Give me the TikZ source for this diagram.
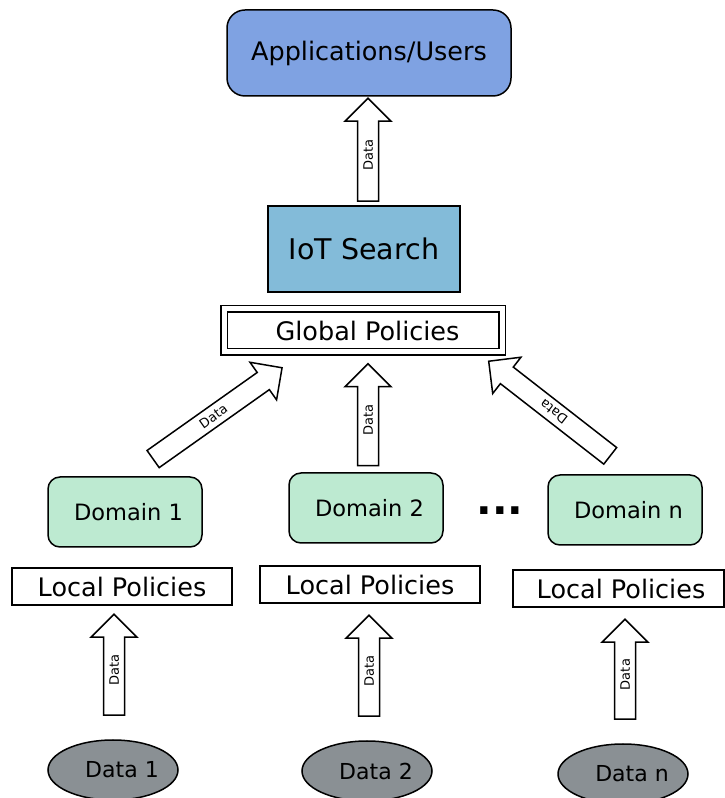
\documentclass[tikz,border=0pt]{standalone}
\usepackage{fontspec}
\setmainfont{DejaVu Sans}
\usetikzlibrary{shapes,arrows,positioning,calc}

\definecolor{appblue}{HTML}{7FA2E2}
\definecolor{iotblue}{HTML}{83BBD9}
\definecolor{domgreen}{HTML}{BDEAD1}
\definecolor{datagray}{HTML}{8A9094}

\begin{document}
\begin{tikzpicture}[x=1pt, y=1pt,
    every node/.style={line width=1.5pt, inner sep=0pt},
    bigfont/.style={font=\fontsize{25.5}{30}\selectfont},
    policybox/.style={draw, bigfont, minimum width=220pt, minimum height=37pt},
    domainbox/.style={draw, rounded corners=12pt, fill=domgreen, minimum width=154pt, minimum height=70pt, font=\fontsize{22.5}{26}\selectfont},
    sourceoval/.style={draw, ellipse, fill=datagray, minimum width=130pt, minimum height=60pt, font=\fontsize{22}{26}\selectfont},
    dataarrow/.style={draw, single arrow, anchor=tail, single arrow head extend=12.5pt, inner xsep=3pt, inner ysep=5pt, text height=9.5pt, text depth=0pt, font=\fontsize{13}{15}\selectfont}
]
    \useasboundingbox (0,0) rectangle (725,798);

    % top
    \node[draw, rounded corners=18pt, fill=appblue, bigfont, minimum width=284pt, minimum height=86pt] (apps) at (369,745) {Applications/Users};
    \node[draw, fill=iotblue, font=\fontsize{28.5}{34}\selectfont, minimum width=192pt, minimum height=86pt] (iot) at (364,549) {IoT Search};
    \node[draw, double, double distance=5pt, bigfont, minimum width=278pt, minimum height=43pt] (global) at (363,467.5) {\hspace*{9pt}Global Policies};
    \node[dataarrow, minimum height=103pt, rotate=90] (up) at (368,596) {Data};

    % domains
    \node[domainbox] (dom1) at (125,286) {\hspace*{7pt}Domain 1};
    \node[domainbox] (dom2) at (366,290) {\hspace*{7pt}Domain 2};
    \node[domainbox] (domn) at (625,288) {\hspace*{7pt}Domain n};
    \node[font=\fontsize{41}{41}\selectfont\bfseries] (dots) at (500,287) {...};

    \node[dataarrow, minimum height=158pt, rotate=35.3] (up1) at (152.5,338.5) {Data};
    \node[dataarrow, minimum height=102pt, rotate=90] (up2) at (368,331.5) {Data};
    \node[dataarrow, minimum height=154pt, rotate=142.1] (upn) at (610.8,341.7) {Data};

    % local policies
    \node[policybox] (loc1) at (122,211.5) {Local Policies};
    \node[policybox] (loc2) at (370,213.5) {Local Policies};
    \node[policybox, minimum width=211pt] (locn) at (618.5,209.5) {\hspace*{5pt}Local Policies};

    \node[dataarrow, minimum height=101pt, rotate=90] (in1) at (114,82) {Data};
    \node[dataarrow, minimum height=101pt, rotate=90] (in2) at (369,81) {Data};
    \node[dataarrow, minimum height=100pt, rotate=90] (inn) at (625,78) {Data};

    % data sources
    \node[sourceoval] (src1) at (113,28) {\hspace*{18pt}Data 1};
    \node[sourceoval] (src2) at (367,27) {\hspace*{18pt}Data 2};
    \node[sourceoval] (srcn) at (623,24) {\hspace*{18pt}Data n};
\end{tikzpicture}
\end{document}
